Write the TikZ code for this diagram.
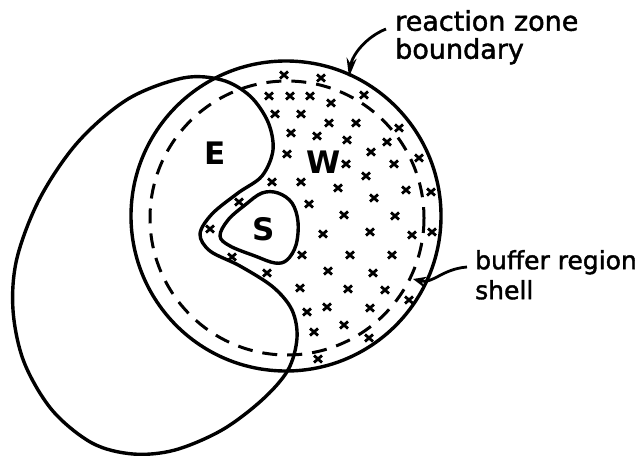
\documentclass[tikz,border=0pt]{standalone}
\usepackage{fontspec}
\setmainfont{DejaVu Sans}
\newfontfamily\tagfont[FakeBold=1.6]{DejaVu Sans}
\usetikzlibrary{arrows.meta}
\tikzset{
  boundary/.style={line width=3.4pt},
  shell/.style={line width=3pt, dash pattern=on 15pt off 10pt},
  region/.style={line width=3.4pt, line join=round},
  leader/.style={line width=2.8pt, -{Stealth[length=19pt,width=10pt]}},
  tag/.style={inner sep=0pt, align=left, font=\tagfont\fontsize{27}{28}\selectfont},
  letter/.style={inner sep=0pt, font=\fontsize{31}{31}\selectfont\bfseries},
  xm/.pic={\draw[line width=2.8pt] (-4,-3.5) -- (4,3.5) (-4,3.5) -- (4,-3.5);}
}

\begin{document}
\begin{tikzpicture}[x=1pt,y=-1pt]
  \useasboundingbox (0,0) rectangle (639,455);

  % reaction zone and buffer shell
  \draw[boundary] (286,216) circle[radius=155];
  \draw[shell] (287,218) circle[radius=137];

  % outline of E
  \draw[region] plot[smooth cycle, tension=0.55] coordinates {
    (183,78) (222,80) (250,96) (268,122) (273,150) (262,176) (238,193)
    (212,214) (200,234) (210,251) (240,266) (273,287) (292,310) (297,338)
    (288,370) (262,400) (222,430) (175,450) (133,454) (92,443) (52,410)
    (24,362) (13,310) (17,258) (40,198) (78,142) (128,99)};

  % S
  \draw[region] plot[smooth cycle, tension=0.6] coordinates {
    (220,236) (228,220) (245,205) (262,193) (278,193) (292,203) (298,222)
    (296,245) (287,260) (275,263) (255,256) (230,246)};

  % crosses of W
  \foreach \x/\y in {284/75, 321/78, 364/95, 269/96, 290/96, 310/96, 331/103,
      275/114, 301/114, 329/123, 356/123, 399/128, 291/133, 317/136, 347/140,
      387/142, 419/158, 371/152, 287/154, 346/164, 394/164, 366/176, 272/182,
      301/182, 338/188, 406/190, 431/192, 374/198, 309/204, 344/215, 395/216,
      323/234, 370/232, 412/235, 432/232, 302/255, 350/255, 392/255, 239/202,
      210/229, 232/257, 267/273, 328/271, 373/273, 300/288, 348/289, 385/290,
      409/300, 307/312, 327/307, 370/308, 344/325, 314/332, 369/338, 318/359}
    \pic at (\x,\y) {xm};

  \node[letter] (E) at (215,153) {E};
  \node[letter] (W) at (324,162) {W};
  \node[letter] (S) at (264,229) {S};

  \node[tag, anchor=north west] (rztag) at (395,10) {reaction zone\\boundary};
  \node[tag, anchor=north west, font=\tagfont\fontsize{25}{30}\selectfont] (bstag) at (475,250) {buffer region\\shell};
  \coordinate (rztip) at (349,77);
  \coordinate (bstip) at (413,279);

  \draw[leader] ([shift={(-9,19)}]rztag.north west)
    .. controls +(-20,8) and +(3,-22) .. (rztip);
  \draw[leader, -{Stealth[length=13pt,width=11pt]}] ([shift={(-8,17)}]bstag.north west)
    .. controls +(-25,2) and +(20,5) .. (bstip);
\end{tikzpicture}
\end{document}
